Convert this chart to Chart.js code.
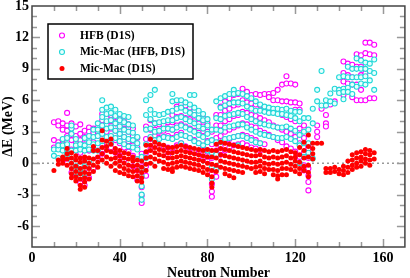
<!DOCTYPE html>
<html><head><meta charset="utf-8">
<script src="https://cdn.jsdelivr.net/npm/chart.js@4"></script>
<style>html,body{margin:0;padding:0;background:#fff}canvas{display:block}</style>
</head><body>
<canvas id="c" width="410" height="278"></canvas>
<script>
const seriesLabels = ['HFB (D1S)', 'Mic-Mac (HFB, D1S)', 'Mic-Mac (D1S)'];
const xTickValues = [0, 40, 80, 120, 160];
const yTickValues = [-6, -3, 0, 3, 6, 9, 12, 15];
const xTitle = 'Neutron Number';
const yTitle = '\u0394E (MeV)';

// [neutron number, [ΔE values]]
const hfbColumns = [
 [10,[3.9,2.2,1.5]],[12,[4.0,3.6,2.0,1.7]],[14,[3.8,3.2,2.2,1.8,0.4]],[16,[4.8,3.6,3.1,2.6,1.7,0.0]],
 [18,[3.8,3.3,2.7,2.2,1.3,-0.9]],[20,[3.5,2.6,1.9,1.3,-1.1]],[22,[3.7,2.8,2.2,1.0,-1.4,-1.9]],
 [24,[3.1,2.5,1.8,0.5,-1.6,-2.1]],[26,[3.4,3.0,2.3,1.2,-0.8,-1.4]],[28,[3.3,2.9,2.0,1.3,-0.5]],
 [30,[3.4,3.0,2.6,1.6,0.5]],[32,[4.7,4.1,3.5,2.8,1.8,0.9]],[34,[4.3,3.7,3.0,2.3,1.4]],
 [36,[4.6,4.0,3.3,2.5,1.5]],[38,[4.4,3.8,3.1,2.2,1.0]],[40,[4.2,3.5,2.8,1.9,0.7]],
 [42,[4.0,3.3,2.5,1.5,0.3]],[44,[3.7,3.0,2.1,1.1]],[46,[3.3,2.6,1.7,0.7,-0.3]],
 [48,[2.4,1.5,0.4,-0.7,-1.6]],[50,[0.9,-0.3,-1.3,-2.3,-3.1,-3.8]],[52,[3.5,2.3,1.0,-0.3,-1.2]],
 [54,[4.1,3.2,2.3,1.3]],[56,[3.8,3.2,2.6,1.7]],[58,[3.7,3.0,2.4,1.5]],[60,[3.7,3.1,2.5,1.6]],
 [62,[3.9,3.3,2.6,1.5,0.8]],[64,[4.6,3.9,3.2,2.4,1.4]],[66,[5.4,4.4,3.6,2.7,1.7]],
 [68,[5.6,4.5,3.7,2.9,1.9]],[70,[5.5,4.3,3.5,2.6,1.6]],[72,[5.3,4.2,3.3,2.4,1.4]],
 [74,[5.0,4.0,3.1,2.2,1.2]],[76,[4.7,3.8,2.9,1.9,0.9]],[78,[4.3,3.5,2.6,1.6,0.6]],
 [80,[3.8,3.0,2.1,1.1,0.2]],[82,[3.0,1.8,0.5,-1.0,-2.0,-2.7,-3.2]],[84,[4.6,3.6,2.4,1.2,-0.4,-1.3]],
 [86,[5.4,4.6,3.6,2.6,1.6,0.8]],[88,[5.9,5.0,4.0,3.0,2.0,1.2]],[90,[6.2,5.2,4.2,3.2,2.3,1.5]],
 [92,[6.5,5.5,4.5,3.4,2.5,1.7]],[94,[6.6,5.6,4.6,3.6,2.6,1.8]],[96,[7.1,6.0,4.9,3.8,2.7,1.9]],
 [98,[6.8,5.8,4.8,3.7,2.6,1.7]],[100,[6.5,5.7,4.6,3.5,2.4,1.5]],[102,[6.6,5.6,4.5,3.4,2.2,1.4]],
 [104,[6.5,5.5,4.3,3.1,1.9,1.2]],[106,[6.6,5.3,4.1,2.9,1.8]],[108,[6.6,6.3,5.1,3.9,2.7]],
 [110,[6.7,6.0,4.9,3.6,2.5]],[112,[7.0,6.0,4.8,3.4,2.2]],[114,[7.5,5.9,4.6,3.2,2.0]],
 [116,[8.3,7.6,5.9,4.4,3.0,1.6]],[118,[7.6,5.8,4.2,2.8,1.4]],[120,[7.5,5.8,5.1,4.0,2.5,1.1]],
 [122,[5.7,5.1,3.3,1.9,0.6]],[124,[3.6,2.4,1.0,-0.2,-0.7]],[126,[1.6,1.4,0.5,-0.5,-1.2,-1.8,-2.6]],
 [130,[3.6,3.0,2.5]],[132,[5.2]],[134,[5.5,4.6,3.8,3.5]],[136,[5.6]],[138,[5.9]],[140,[7.0]],
 [142,[9.7,8.6,7.8,6.5]],[144,[9.5,8.4,7.6]],[146,[9.4,8.2,7.5,6.3]],[148,[10.4,9.2,7.5,6.0]],
 [150,[10.3,9.2,8.4,7.0,6.0]],[152,[11.5,10.5,8.6,6.0]],[154,[11.5,10.4,6.2]],[156,[11.3,10.3,6.2]]
];
const micMacHfbColumns = [
 [10,[0.7,1.3]],[12,[1.3,1.7,0.5]],[14,[1.2,1.7,2.3]],[16,[1.3,1.8,2.4,0.8]],
 [18,[1.2,2.8,3.3,3.6,0.2]],[20,[1.2,1.7,2.3,-0.3,-0.9]],[22,[1.3,1.8,-0.6,-1.2]],
 [24,[1.2,1.7,2.4,-0.3,-1.0]],[26,[1.3,2.0,2.6,0.2]],[28,[1.2,1.8,2.5,3.2]],
 [30,[1.2,1.9,2.6,3.2,3.8]],[32,[6.0,5.1,4.4,3.6,2.8,2.1]],[34,[5.3,4.7,4.0,3.3,2.5]],
 [36,[5.4,4.8,4.1,3.4,2.6,1.9]],[38,[5.1,4.5,3.8,3.1,2.4]],[40,[4.7,4.1,3.5,2.8,2.1]],
 [42,[4.5,3.9,3.2,2.5,1.8]],[44,[4.4,3.7,3.0,2.3,1.6]],[46,[3.6,2.9,2.2,1.5]],
 [48,[2.5,1.9,1.3,0.4]],[50,[0.6,-0.5,-1.3,-2.2,-3.0,-3.5]],[52,[6.0,4.6,3.2,1.8,0.5]],
 [54,[6.5,5.1,4.2,3.3,2.5]],[56,[7.0,4.7,3.8,3.0,2.2]],[58,[4.6,3.9,3.1,2.3]],
 [60,[4.7,4.0,3.3,2.5]],[62,[4.9,4.1,3.3,2.4]],[64,[6.6,5.9,5.0,4.1,3.2,2.3]],
 [66,[6.0,5.2,4.3,3.4,2.5]],[68,[6.0,5.3,4.4,3.6,2.7,1.9]],[70,[5.8,5.0,4.2,3.4,2.6]],
 [72,[6.5,5.6,4.8,4.0,3.2,2.4]],[74,[6.5,5.3,4.6,3.8,3.0,2.1]],[76,[5.0,4.3,3.5,2.7,1.9]],
 [78,[4.7,4.1,3.3,2.5,1.7]],[80,[4.2,3.6,2.8,2.0,1.2]],[82,[3.2,2.2,1.0,-0.4,-1.5]],
 [84,[5.9,4.3,3.2,2.0,0.8,-0.6]],[86,[6.2,5.3,4.2,3.1,2.0]],[88,[6.4,5.5,4.5,3.4,2.3]],
 [90,[6.6,5.7,4.6,3.5,2.4]],[92,[7.0,6.6,5.8,4.7,3.6,2.5]],[94,[6.7,5.8,4.8,3.7,2.6,1.7]],
 [96,[6.6,5.7,4.7,3.7,2.6]],[98,[6.4,5.4,4.4,3.4,2.4]],[100,[6.2,5.2,4.2,3.2,2.2]],
 [102,[5.9,5.0,4.0,3.0,2.0]],[104,[5.6,5.0,3.8,2.8,1.9]],[106,[5.4,4.9,3.7,2.7]],
 [108,[5.3,4.8,3.6,2.6]],[110,[5.2,4.8,3.5,2.5]],[112,[5.2,4.7,3.4,2.4]],[114,[5.1,4.7,3.4,2.4]],
 [116,[5.2,4.6,3.5,2.5]],[118,[5.0,4.5,3.3,2.3]],[120,[4.9,4.3,3.1,2.1]],
 [122,[4.9,4.0,2.7,1.7,0.0]],[124,[4.3,3.0,1.9,0.6]],[126,[4.3,3.2,1.9,1.0]],
 [128,[5.2,3.8,0.45]],[130,[7.0,5.9]],[132,[8.8,5.5]],[134,[5.5,6.0]],[136,[6.65,5.9]],
 [138,[7.1,5.7]],[140,[8.2,7.0,6.7]],[142,[8.3,7.1,6.8,6.1]],[144,[9.2,8.2,7.2,6.8]],
 [146,[9.0,8.2,7.5,6.6]],[148,[10.0,9.0,8.2,7.3]],[150,[9.8,9.0,8.2,7.6]],
 [152,[9.6,9.0,8.3,7.5]],[154,[9.5,8.8,7.9]],[156,[9.9,8.6,7.0]]
];
const micMacD1sColumns = [
 [10,[-0.7]],[12,[0.3,-0.1]],[14,[0.6,0.3,0.0]],[16,[1.4,0.9,0.4,-0.2]],
 [18,[1.0,0.5,0.0,-0.5,-1.0,-1.4]],[20,[0.7,0.3,-0.3,-0.8,-1.3,-1.7]],
 [22,[0.5,0.1,-0.5,-1.0,-1.5,-2.1,-2.5]],[24,[0.6,0.2,-0.4,-0.9,-1.4,-1.8,-2.3]],
 [26,[0.5,0.0,-0.5,-1.0,-1.5]],[28,[1.6,1.2,0.4,-0.2,-0.8]],[30,[1.2,0.6,0.1,-0.4]],
 [32,[3.1,2.2,1.5,0.9,0.3]],[34,[2.1,1.6,1.2,0.6,0.0]],[36,[2.3,1.8,1.1,0.4,-0.3]],
 [38,[1.4,1.0,0.5,0.0,-0.7]],[40,[1.2,0.7,0.2,-0.3,-0.9]],[42,[1.0,0.5,0.0,-0.5,-1.0]],
 [44,[0.9,0.4,-0.2,-0.7,-1.2]],[46,[0.6,0.2,-0.3,-0.8,-1.3]],[48,[0.3,-0.2,-0.7,-1.2,-1.7]],
 [50,[0.2,-0.4,-0.9,-1.4,-1.8]],[52,[1.7,1.1,0.5,-0.1,-0.7]],[54,[2.3,1.7,1.2,0.6,0.0]],
 [56,[2.0,1.5,1.0,0.4,-0.3]],[58,[1.8,1.3,0.8,0.2]],[60,[1.7,1.2,0.7,0.1,-0.5]],
 [62,[1.5,1.0,0.5,-0.1,-0.6]],[64,[1.5,1.0,0.5,0.0,-0.5,-0.8]],[66,[1.6,1.1,0.6,0.1,-0.4]],
 [68,[1.7,1.2,0.7,0.2,-0.3]],[70,[1.6,1.1,0.6,0.1,-0.4]],[72,[1.5,1.0,0.5,0.0,-0.5]],
 [74,[1.4,0.9,0.4,-0.1,-0.6]],[76,[1.3,0.8,0.3,-0.2,-0.7]],[78,[1.2,0.7,0.2,-0.4,-0.9]],
 [80,[1.3,0.6,0.0,-0.6,-1.1]],[82,[1.2,0.6,-0.1,-0.7,-1.3,-1.9,-2.3]],
 [84,[1.8,1.2,0.5,-0.2,-0.8]],[86,[2.0,1.4,0.8,0.2,-0.4]],[88,[1.9,1.3,0.7,0.1,-0.5,-1.0]],
 [90,[1.8,1.2,0.6,0.0,-0.6,-1.2]],[92,[1.7,1.1,0.5,-0.1,-0.7,-1.4]],[94,[1.6,1.0,0.4,-0.2,-0.8]],
 [96,[1.5,0.9,0.3,-0.3,-0.9]],[98,[1.4,0.8,0.2,-0.4]],[100,[1.3,0.7,0.1,-0.5]],
 [102,[1.2,0.7,0.1,-0.4,-0.9]],[104,[1.3,0.8,0.2,-0.3,-0.8]],[106,[1.2,0.6,0.0,-0.5,-1.0]],
 [108,[1.1,0.5,-0.1,-0.6]],[110,[1.2,0.6,0.0,-0.6,-1.1]],[112,[1.1,0.5,-0.1,-0.7,-1.2,-1.5]],
 [114,[1.2,0.6,0.0,-0.5,-1.1]],[116,[1.3,0.7,0.1,-0.5,-1.1]],[118,[1.1,0.5,-0.1,-0.6]],
 [120,[1.0,0.6,0.2,-0.3,-0.8]],[122,[1.5,0.8,0.1,-0.5,-1.0]],[124,[2.0,1.2,0.5,-0.3,-0.7]],
 [126,[2.7,1.6,0.6,-0.2,-0.9,-1.3]],[128,[1.9,1.4,0.9,0.4]],[130,[1.9]],[132,[1.9]],
 [134,[-0.5,-0.9]],[136,[-0.5,-0.9]],[138,[-0.4,-0.8]],[140,[-0.6,-1.0]],[142,[-0.3,-0.7,-1.1]],
 [144,[0.2,-0.4,-0.9]],[146,[0.8,0.3,-0.2,-0.6]],[148,[1.0,0.5,0.0,-0.4]],[150,[1.1,0.6,0.2,-0.3]],
 [152,[1.3,0.9,0.4,0.0]],[154,[1.2,0.8,0.3,-0.2]],[156,[1.0,0.4]]
];

function toPoints(cols) {
  const pts = [];
  cols.forEach(([n, es]) => es.forEach(e => pts.push({x: n, y: e})));
  return pts;
}

const serif = "'Liberation Serif', 'Times New Roman', serif";

const framePlugin = {
  id: 'frame',
  beforeDatasetsDraw(chart) {
    const {ctx, chartArea: a, scales: {y}} = chart;
    const y0 = y.getPixelForValue(0);
    ctx.save();
    ctx.strokeStyle = '#999';
    ctx.lineWidth = 1.5;
    ctx.setLineDash([2, 3]);
    ctx.beginPath(); ctx.moveTo(a.left, y0); ctx.lineTo(a.right, y0); ctx.stroke();
    ctx.restore();
  },
  afterDatasetsDraw(chart) {
    const {ctx, chartArea: a, scales: {x, y}} = chart;
    ctx.save();
    ctx.strokeStyle = '#999';
    ctx.lineWidth = 1.5;
    ctx.beginPath();
    for (let v = 10; v < 170; v += 10) {
      const px = Math.round(x.getPixelForValue(v)) + 0.5;
      const len = v % 40 === 0 ? 8 : 5;
      ctx.moveTo(px, a.bottom); ctx.lineTo(px, a.bottom - len);
      ctx.moveTo(px, a.top); ctx.lineTo(px, a.top + len);
    }
    for (let v = -7; v < 15; v += 1) {
      const py = Math.round(y.getPixelForValue(v)) + 0.5;
      const len = v % 3 === 0 ? 8 : 5;
      ctx.moveTo(a.left, py); ctx.lineTo(a.left + len, py);
      ctx.moveTo(a.right, py); ctx.lineTo(a.right - len, py);
    }
    ctx.stroke();
    ctx.strokeStyle = '#444';
    ctx.lineWidth = 1.5;
    ctx.strokeRect(a.left, a.top, a.right - a.left, a.bottom - a.top);

    // legend box
    const lx = 48, ly = 24, lw = 145, lh = 55;
    ctx.fillStyle = '#fff';
    ctx.fillRect(lx, ly, lw, lh);
    ctx.strokeStyle = '#000';
    ctx.lineWidth = 1.5;
    ctx.strokeRect(lx, ly, lw, lh);
    const rows = [35.5, 52, 68.5];
    ctx.font = 'bold 11.5px ' + serif;
    ctx.textBaseline = 'middle';
    ctx.textAlign = 'left';
    chart.data.datasets.forEach((ds, i) => {
      const cy = rows[i];
      ctx.beginPath();
      ctx.arc(62, cy, ds.pointRadius, 0, Math.PI * 2);
      ctx.fillStyle = ds.backgroundColor;
      ctx.fill();
      if (ds.borderWidth > 0) {
        ctx.lineWidth = ds.borderWidth;
        ctx.strokeStyle = ds.borderColor;
        ctx.stroke();
      }
      ctx.fillStyle = '#000';
      ctx.fillText(ds.label, 80, cy + 0.5);
    });
    ctx.restore();
  }
};

new Chart(document.getElementById('c'), {
  type: 'scatter',
  data: {
    datasets: [
      {label: seriesLabels[0], data: toPoints(hfbColumns), order: 3,
       pointRadius: 2.5, borderWidth: 1.1, borderColor: '#ff00ff', backgroundColor: '#ffffff'},
      {label: seriesLabels[1], data: toPoints(micMacHfbColumns), order: 2,
       pointRadius: 2.5, borderWidth: 1.1, borderColor: '#22d8d8', backgroundColor: '#e6ffff'},
      {label: seriesLabels[2], data: toPoints(micMacD1sColumns), order: 1,
       pointRadius: 2.5, borderWidth: 0, borderColor: '#ff0000', backgroundColor: '#ff0000'}
    ]
  },
  options: {
    responsive: false, animation: false, devicePixelRatio: 1,
    layout: {padding: {top: 6, right: 2, left: 0, bottom: 0}},
    plugins: {legend: {display: false}, tooltip: {enabled: false}},
    scales: {
      x: {
        type: 'linear', min: 0, max: 170,
        grid: {display: false, drawTicks: false}, border: {display: false},
        afterBuildTicks: s => { s.ticks = xTickValues.map(v => ({value: v})); },
        afterFit: s => { s.height = 31; s.paddingLeft = 0; s.paddingRight = 0; },
        ticks: {padding: 3, color: '#000', maxRotation: 0, autoSkip: false,
                font: {family: serif, weight: 'bold', size: 14}},
        title: {display: true, text: xTitle, color: '#000',
                font: {family: serif, weight: 'bold', size: 14, lineHeight: 1}, padding: {top: 0, bottom: -2}}
      },
      y: {
        type: 'linear', min: -8, max: 15,
        grid: {display: false, drawTicks: false}, border: {display: false},
        afterBuildTicks: s => { s.ticks = yTickValues.map(v => ({value: v})); },
        afterFit: s => { s.width = 32; s.paddingTop = 0; s.paddingBottom = 0; },
        ticks: {padding: 3, color: '#000', autoSkip: false,
                font: {family: serif, weight: 'bold', size: 14}},
        title: {display: true, text: yTitle, color: '#000',
                font: {family: serif, weight: 'bold', size: 14, lineHeight: 1}, padding: {top: 1, bottom: 0}}
      }
    }
  },
  plugins: [framePlugin]
});
</script>
</body></html>
